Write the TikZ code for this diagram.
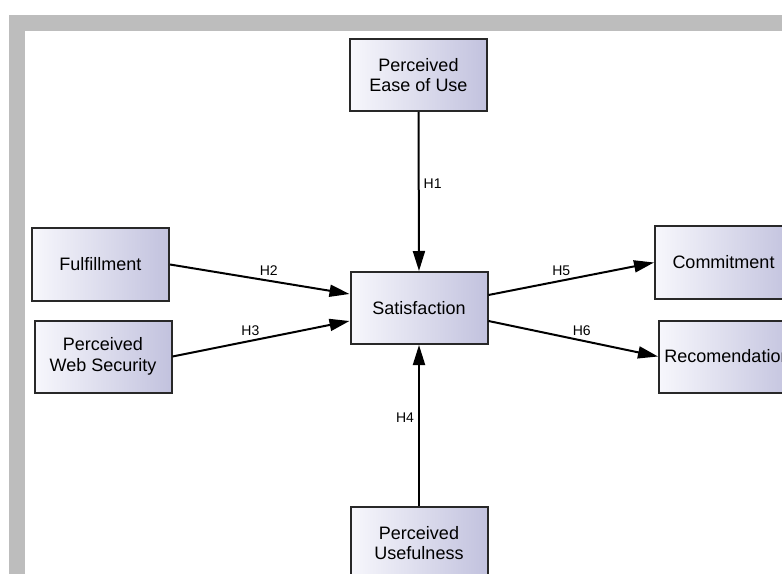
\documentclass[tikz,border=0pt]{standalone}
\usepackage{fontspec}
\setmainfont{Liberation Sans}
\usetikzlibrary{arrows.meta,calc}

\definecolor{framegray}{RGB}{189,189,189}
\definecolor{boxline}{RGB}{40,40,40}
\definecolor{boxlight}{RGB}{247,247,252}
\definecolor{boxdark}{RGB}{194,194,222}

\tikzset{every picture/.style={line width=0.75pt}}
\tikzset{
  construct/.style={draw=boxline, line width=1.5pt, left color=boxlight, right color=boxdark,
    minimum width=102.75pt, minimum height=54pt, inner sep=2pt, align=center,
    font=\fontsize{13.5}{15.5}\selectfont},
  hypo/.style={line width=1.5pt, -{Triangle[length=15pt,width=9pt]}},
  hlabel/.style={font=\fontsize{10.5}{12}\selectfont, inner sep=3pt}
}

\begin{document}
\begin{tikzpicture}[x=0.75pt,y=0.75pt,yscale=-1,xscale=1]
\useasboundingbox (0,0) rectangle (782,574);
\clip (0,0) rectangle (782,574);

%Frame
\fill [framegray] (9,15) rectangle (782,574);
\fill [white] (25,31) rectangle (782,574);

%Shape: Rectangle
\node [construct] (ease) at (418.5,75) {Perceived\\Ease of Use};
\node [construct] (sat) at (419,308) {Satisfaction};
\node [construct] (ful) at (100.5,264.5) {Fulfillment};
\node [construct] (web) at (103,356.5) {Perceived\\Web Security};
\node [construct] (com) at (723.5,262.5) {Commitment};
\node [construct] (rec) at (727.5,356.5) {Recomendation};
\node [construct] (use) at (419,543) {Perceived\\Usefulness};

%Straight Lines
\draw [hypo] (ease.south) -- (sat.north) node [hlabel, right, pos=0.45] (h1) {H1};
\draw [hypo] (ful.east) -- ($(sat.west)+(0,-14)$) node [hlabel, above, pos=0.55] (h2) {H2};
\draw [hypo] (web.east) -- ($(sat.west)+(0,13)$) node [hlabel, above, pos=0.44] (h3) {H3};
\draw [hypo] (use.north) -- (sat.south) node [hlabel, left, pos=0.55] (h4) {H4};
\draw [hypo] ($(sat.east)+(0,-13)$) -- (com.west) node [hlabel, above, pos=0.44] (h5) {H5};
\draw [hypo] ($(sat.east)+(0,13)$) -- (rec.west) node [hlabel, above, pos=0.55] (h6) {H6};

\end{tikzpicture}
\end{document}
